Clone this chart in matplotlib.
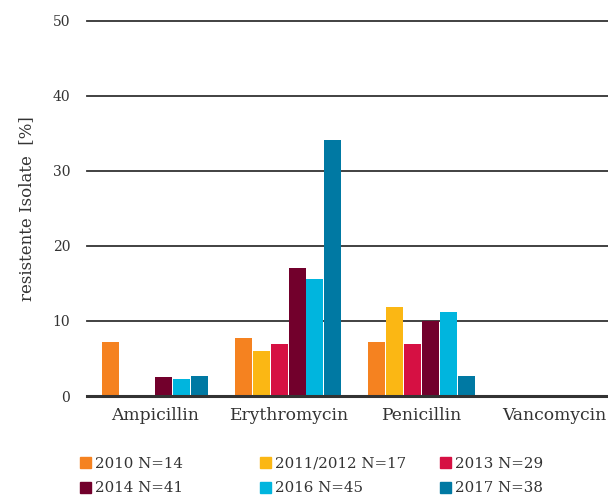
import matplotlib.pyplot as plt
import matplotlib.patches as mpatches
import numpy as np

# antibiotics and resistant-isolate shares per year
categories = ["Ampicillin", "Erythromycin", "Penicillin", "Vancomycin"]
series_names = ["2010 N=14", "2011/2012 N=17", "2013 N=29",
                "2014 N=41", "2016 N=45", "2017 N=38"]
values_2010 = [7.2, 7.7, 7.2, 0]
values_2011 = [0, 6.0, 11.9, 0]
values_2013 = [0, 6.9, 6.9, 0]
values_2014 = [2.5, 17.1, 10.0, 0]
values_2016 = [2.3, 15.6, 11.2, 0]
values_2017 = [2.7, 34.1, 2.7, 0]
colors = ["#F58220", "#FBB714", "#D61043", "#72002C", "#00B5DE", "#0079A3"]

all_values = [values_2010, values_2011, values_2013,
              values_2014, values_2016, values_2017]

plt.rcParams["font.family"] = ["DejaVu Serif"]
text_color = "#333333"

fig = plt.figure(figsize=(6.08, 4.99), dpi=100)
ax = fig.add_axes([0.143, 0.2064, 0.857, 0.7516])

x = np.arange(len(categories))
bar_w = 0.128
for i, (vals, col) in enumerate(zip(all_values, colors)):
    offset = (i - 2.5) * (bar_w + 0.006)
    ax.bar(x + offset, vals, width=bar_w, color=col, zorder=3)

ax.set_ylim(0, 50)
ax.set_xlim(-0.51, 3.4)
ax.set_yticks([0, 10, 20, 30, 40, 50])
for yv in [10, 20, 30, 40, 50]:
    ax.axhline(yv, color="#333333", linewidth=1.3, zorder=0, clip_on=False)
ax.axhline(0, color="#333333", linewidth=2.2, zorder=4, clip_on=False)
for s in ax.spines.values():
    s.set_visible(False)
ax.tick_params(axis="both", length=0, colors=text_color)
ax.tick_params(axis="y", labelsize=10, pad=12)
ax.tick_params(axis="x", labelsize=12.3, pad=8)
ax.set_xticks(x)
ax.set_xticklabels(categories)
ax.set_ylabel("resistente Isolate  [%]", fontsize=12, color=text_color, labelpad=13)

# legend: three columns placed at fixed positions
handles = [mpatches.Patch(color=c, label=n) for c, n in zip(colors, series_names)]
col_x = [0.114, 0.41, 0.706]
for k in range(3):
    idx = [k, k + 3]
    leg = fig.legend([handles[i] for i in idx], [series_names[i] for i in idx],
                     loc="lower left", bbox_to_anchor=(col_x[k], -0.014),
                     frameon=False, fontsize=10.8, handlelength=0.72,
                     handleheight=0.72, handletextpad=0.3, labelspacing=0.72,
                     borderaxespad=0.3, labelcolor=text_color)

fig.savefig("out.png", dpi=100)
